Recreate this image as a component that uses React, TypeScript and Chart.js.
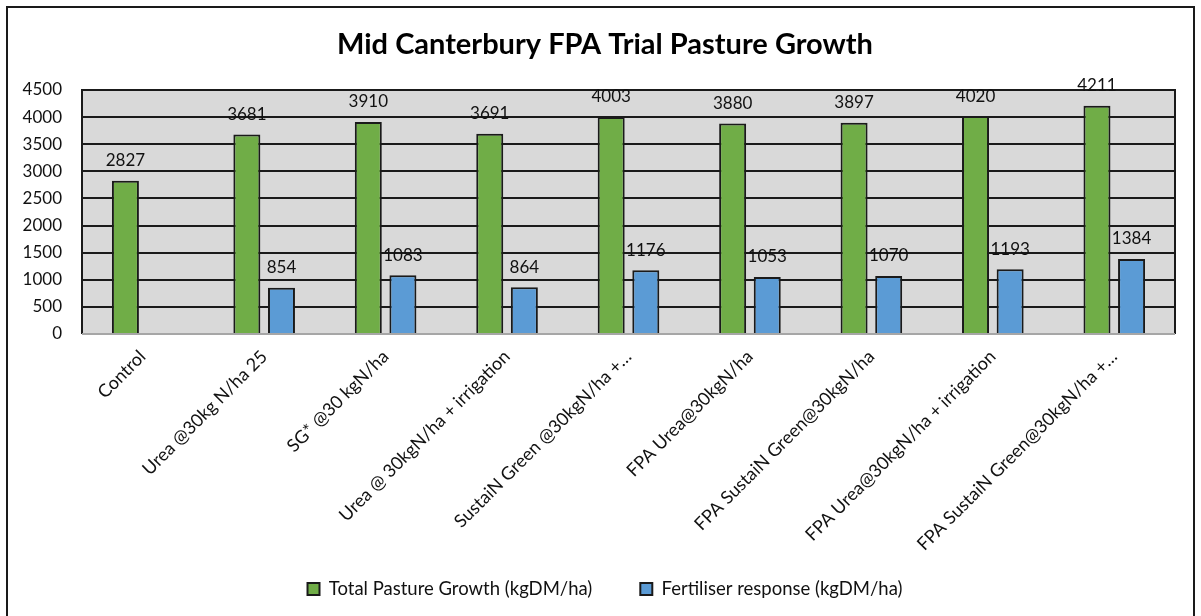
import React, { useEffect, useRef } from "react";
import { Chart, registerables } from "chart.js";

Chart.register(...registerables);

const categories = [
  "Control",
  "Urea @30kg N/ha 25",
  "SG* @30 kgN/ha",
  "Urea @ 30kgN/ha + irrigation",
  "SustaiN Green @30kgN/ha +…",
  "FPA Urea@30kgN/ha",
  "FPA SustaiN Green@30kgN/ha",
  "FPA Urea@30kgN/ha + irrigation",
  "FPA SustaiN Green@30kgN/ha +…",
];
const totalGrowth = [2827, 3681, 3910, 3691, 4003, 3880, 3897, 4020, 4211];
const fertResponse = [null, 854, 1083, 864, 1176, 1053, 1070, 1193, 1384];
const seriesNames = ["Total Pasture Growth (kgDM/ha)", "Fertiliser response (kgDM/ha)"];
const titleText = "Mid Canterbury FPA Trial Pasture Growth";
const yMin = 0;
const yMax = 4500;
const yStep = 500;

const FONT = "Lato, 'Open Sans', sans-serif";

const plotDecor = {
  id: "plotDecor",
  afterLayout(chart: any) {
    const shiftX = 17.5;
    if (chart.titleBlock) {
      chart.titleBlock.left += shiftX;
      chart.titleBlock.right += shiftX;
    }
    if (chart.legend) {
      chart.legend.left += shiftX;
      chart.legend.right += shiftX;
      const dy = -27.25;
      chart.legend.top += dy;
      chart.legend.bottom += dy;
    }
  },
  beforeDraw(chart: any) {
    const { ctx, chartArea: a } = chart;
    ctx.save();
    ctx.fillStyle = "#D9D9D9";
    ctx.fillRect(a.left, a.top, a.right - a.left, a.bottom - a.top);
    ctx.restore();
  },
  beforeDatasetsDraw(chart: any) {
    const { ctx, chartArea: a } = chart;
    ctx.save();
    ctx.strokeStyle = "#1a1a1a";
    ctx.lineWidth = 2;
    ctx.beginPath();
    ctx.moveTo(a.left, a.bottom);
    ctx.lineTo(a.left, a.top);
    ctx.lineTo(a.right, a.top);
    ctx.lineTo(a.right, a.bottom);
    ctx.stroke();
    ctx.strokeStyle = "#A6A6A6";
    ctx.beginPath();
    ctx.moveTo(a.left, a.bottom);
    ctx.lineTo(a.right, a.bottom);
    ctx.stroke();
    ctx.restore();
  },
  afterDatasetsDraw(chart: any) {
    const { ctx } = chart;
    ctx.save();
    ctx.font = `17px ${FONT}`;
    ctx.fillStyle = "#111";
    ctx.textAlign = "center";
    ctx.textBaseline = "middle";
    chart.data.datasets.forEach((ds: any, di: number) => {
      const meta = chart.getDatasetMeta(di);
      meta.data.forEach((el: any, i: number) => {
        const v = ds.data[i];
        if (v === null || v === undefined) return;
        ctx.fillText(String(v), el.x, el.y - 20);
      });
    });
    ctx.restore();
  },
};

export default function App() {
  const ref = useRef<HTMLCanvasElement>(null);
  useEffect(() => {
    if (!ref.current) return;
    const chart = new Chart(ref.current, {
      type: "bar",
      data: {
        labels: categories,
        datasets: [
          {
            label: seriesNames[0],
            data: totalGrowth,
            backgroundColor: "#70AD47",
            borderColor: "#1a1a1a",
            borderWidth: 2,
            categoryPercentage: 0.57,
            barPercentage: 0.78,
          },
          {
            label: seriesNames[1],
            data: fertResponse as any,
            backgroundColor: "#5B9BD5",
            borderColor: "#1a1a1a",
            borderWidth: 2,
            categoryPercentage: 0.57,
            barPercentage: 0.78,
          },
        ],
      },
      options: {
        responsive: false,
        animation: false,
        layout: { padding: { left: 0, right: 26, top: 0, bottom: -19.5 } },
        plugins: {
          title: {
            display: true,
            text: titleText,
            color: "#000",
            font: { family: FONT, size: 29, weight: "bold" },
            padding: { top: 27.6, bottom: 27.6 },
          },
          legend: {
            position: "bottom",
            labels: {
              color: "#111",
              font: { family: FONT, size: 18.5 },
              boxWidth: 12,
              boxHeight: 12,
              padding: 48,
            },
          },
          tooltip: { enabled: false },
        },
        scales: {
          x: {
            grid: { display: false, drawTicks: false },
            border: { display: false },
            ticks: {
              color: "#111",
              font: { family: FONT, size: 18 },
              maxRotation: 45,
              minRotation: 45,
              padding: 12,
              autoSkip: false,
            },
            afterFit(scale: any) {
              scale.height = 225;
            },
          },
          y: {
            min: yMin,
            max: yMax,
            grid: { color: "#1a1a1a", lineWidth: 2, drawTicks: false },
            border: { display: false },
            ticks: {
              stepSize: yStep,
              color: "#111",
              font: { family: FONT, size: 17 },
              padding: 20,
              callback: (v: any) => String(v),
            },
            afterFit(scale: any) {
              scale.width = 82;
            },
          },
        },
      },
      plugins: [plotDecor],
    });
    return () => chart.destroy();
  }, []);
  return (
    <div style={{ position: "absolute", left: 0, top: 0, width: 1201, height: 616, background: "#fff", overflow: "hidden" }}>
      <canvas ref={ref} width={1201} height={616} style={{ position: "absolute", left: 0, top: 0 }} />
      <div
        style={{
          position: "absolute",
          left: 6,
          top: 6,
          width: 1185,
          height: 640,
          border: "2px solid #1a1a1a",
          pointerEvents: "none",
        }}
      />
    </div>
  );
}
